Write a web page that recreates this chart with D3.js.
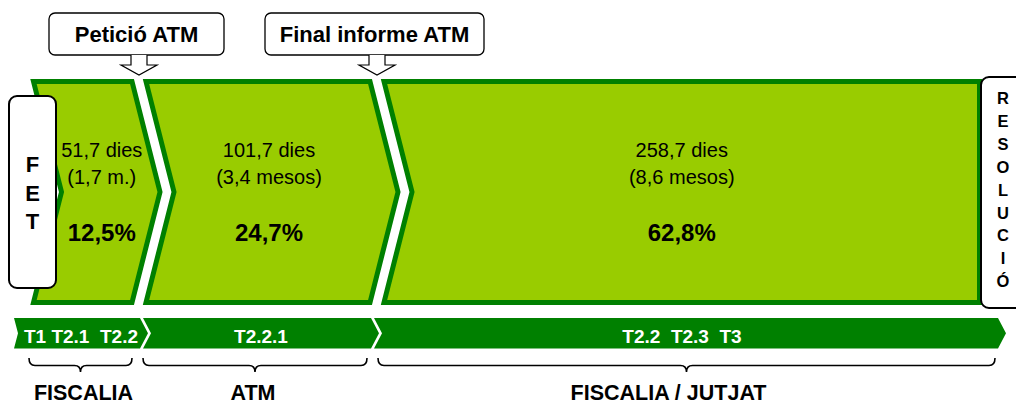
<!DOCTYPE html>
<html>
<head>
<meta charset="utf-8">
<script src="https://cdn.jsdelivr.net/npm/d3@7"></script>
<style>
  html, body { margin: 0; padding: 0; background: #fff; }
  svg { display: block; font-family: "Liberation Sans", Arial, sans-serif; }
</style>
</head>
<body>
<svg id="chart" width="1016" height="405"></svg>
<script>
// ---------- DATA ----------
const stages = ["FISCALIA", "ATM", "FISCALIA / JUTJAT"];
const stageDays = [51.7, 101.7, 258.7];
const stageMonths = ["(1,7 m.)", "(3,4 mesos)", "(8,6 mesos)"];
const stagePct = [12.5, 24.7, 62.8];
const stageTramits = ["T1 T2.1  T2.2", "T2.2.1", "T2.2  T2.3  T3"];
const milestones = ["Petició ATM", "Final informe ATM"];
const startLabel = "FET";
const endLabel = "RESOLUCIÓ";

// ---------- LAYOUT ----------
const DARK = "#008000", LIGHT = "#99CC00";
const FONT = "'Liberation Sans', Arial, sans-serif";

const loc = d3.formatLocale({decimal: ",", thousands: ".", grouping: [3], currency: ["", "€"]});
const f1 = loc.format(".1f");

const cum = [0];
stageDays.forEach(d => cum.push(cum[cum.length - 1] + d));

// piecewise scales mapping cumulative days to x positions
const stageX = d3.scaleLinear().domain(cum).range([31, 139, 377, 982]);
const barX = d3.scaleLinear().domain(cum).range([14, 141.5, 372.5, 998]);
const braceX = d3.scaleLinear().domain(cum).range([29, 138, 373, 995]);

const svg = d3.select("#chart");

// ---------- CHEVRONS ----------
const bandTop = 79, bandBot = 305, bandMid = 192, depth = 28, halfGap = 4.5, sw = 5;
const labelDx = [19, 11, 0];
const last = stages.length - 1;

const chev = stages.map((s, i) => {
  const L = stageX(cum[i]) + (i > 0 ? halfGap : 0);
  const R = stageX(cum[i + 1]) - (i < last ? halfGap : 0);
  return {i, L, R};
});

const g = svg.append("g");
g.selectAll("path.chev").data(chev).enter().append("path")
  .attr("class", "chev")
  .attr("d", d => {
    const h = sw / 2;
    const t = bandTop + h, b = bandBot - h;
    const L = d.L + h, R = d.R - h;
    const pts = [[L, t], [R, t]];
    if (d.i < last) pts.push([R + depth, bandMid]);
    pts.push([R, b], [L, b], [L + depth, bandMid]);
    return "M" + pts.map(p => p.join(",")).join("L") + "Z";
  })
  .attr("fill", LIGHT)
  .attr("stroke", DARK)
  .attr("stroke-width", sw)
  .attr("stroke-linejoin", "miter");

const lab = g.selectAll("g.lab").data(chev).enter().append("g")
  .attr("transform", d => `translate(${(d.L + d.R) / 2 + labelDx[d.i]},0)`)
  .attr("text-anchor", "middle")
  .attr("font-family", FONT)
  .attr("fill", "#000");
lab.append("text").attr("y", 157).attr("font-size", 20)
  .text(d => f1(stageDays[d.i]) + " dies");
lab.append("text").attr("y", 184).attr("font-size", 20)
  .text(d => stageMonths[d.i]);
lab.append("text").attr("y", 241).attr("font-size", 24).attr("font-weight", "bold")
  .text(d => f1(stagePct[d.i]) + "%");

// ---------- BOTTOM TRAMIT BAR ----------
const barTop = 318, barBot = 348.5, barMid = (barTop + barBot) / 2, tip = 8, gap = 1.5;
const segs = stages.map((s, i) => {
  const L = barX(cum[i]) + (i > 0 ? gap : 0);
  const R = barX(cum[i + 1]) - (i < last ? gap : 0);
  return {i, L, R, notch: i === 0 ? 4 : tip};
});
svg.selectAll("path.seg").data(segs).enter().append("path")
  .attr("d", d => {
    const pts = [[d.L, barTop], [d.R, barTop], [d.R + tip, barMid], [d.R, barBot], [d.L, barBot], [d.L + d.notch, barMid]];
    return "M" + pts.map(p => p.join(",")).join("L") + "Z";
  })
  .attr("fill", DARK);

svg.selectAll("text.tram").data(segs).enter().append("text")
  .attr("x", d => (d.L + d.R) / 2 + (d.i < last ? tip / 2 : -4))
  .attr("y", 343)
  .attr("text-anchor", "middle")
  .attr("font-family", FONT)
  .attr("font-size", 19)
  .attr("font-weight", "bold")
  .attr("fill", "#fff")
  .style("white-space", "pre")
  .text(d => stageTramits[d.i]);

// ---------- BRACES ----------
const bY0 = 358, bY1 = 365.5, bY2 = 372;
const braces = stages.map((s, i) => {
  const x0 = braceX(cum[i]) + (i > 0 ? 5 : 0);
  const x1 = braceX(cum[i + 1]) - (i < last ? 6 : 0);
  return {i, x0, x1, cx: (x0 + x1) / 2};
});
svg.selectAll("path.brace").data(braces).enter().append("path")
  .attr("d", d => {
    const r = 6;
    return `M${d.x0},${bY0} Q${d.x0},${bY1} ${d.x0 + r},${bY1} L${d.cx - r},${bY1} Q${d.cx},${bY1} ${d.cx},${bY2} ` +
           `Q${d.cx},${bY1} ${d.cx + r},${bY1} L${d.x1 - r},${bY1} Q${d.x1},${bY1} ${d.x1},${bY0}`;
  })
  .attr("fill", "none")
  .attr("stroke", "#000")
  .attr("stroke-width", 1.6);

const stageLabelDx = [3, -2, -18];
svg.selectAll("text.stage").data(braces).enter().append("text")
  .attr("x", d => d.cx + stageLabelDx[d.i])
  .attr("y", 400)
  .attr("text-anchor", "middle")
  .attr("font-family", FONT)
  .attr("font-size", 21.5)
  .attr("font-weight", "bold")
  .attr("fill", "#000")
  .text(d => stages[d.i]);

// ---------- MILESTONE CALLOUTS ----------
const boxW = [175, 219];
const ms = milestones.map((m, i) => ({i, m, ax: stageX(cum[i + 1])}));
const mg = svg.selectAll("g.ms").data(ms).enter().append("g");
mg.append("rect")
  .attr("x", d => d.ax - 2.5 - boxW[d.i] / 2)
  .attr("y", 13).attr("width", d => boxW[d.i]).attr("height", 42)
  .attr("rx", 6)
  .attr("fill", "#fff").attr("stroke", "#000").attr("stroke-width", 1.3);
mg.append("text")
  .attr("x", d => d.ax - 2.5)
  .attr("y", 42)
  .attr("text-anchor", "middle")
  .attr("font-family", FONT)
  .attr("font-size", 22)
  .attr("font-weight", "bold")
  .attr("fill", "#000")
  .text(d => d.m);
mg.append("path")
  .attr("d", d => {
    const x = d.ax, sh = 8, hh = 18;
    return `M${x - sh},55 L${x - sh},65 L${x - hh},65 L${x},75 L${x + hh},65 L${x + sh},65 L${x + sh},55`;
  })
  .attr("fill", "#fff").attr("stroke", "#000").attr("stroke-width", 1.2)
  .attr("stroke-linejoin", "miter");

// ---------- START / END BOXES ----------
svg.append("rect").attr("x", 9).attr("y", 96).attr("width", 47).attr("height", 192)
  .attr("rx", 8).attr("fill", "#fff").attr("stroke", "#000").attr("stroke-width", 2);
svg.selectAll("text.start").data(startLabel.split("")).enter().append("text")
  .attr("x", 32.5).attr("y", (d, i) => 172 + i * 28.5)
  .attr("text-anchor", "middle").attr("font-family", FONT)
  .attr("font-size", 22).attr("font-weight", "bold").attr("fill", "#000")
  .text(d => d);

svg.append("rect").attr("x", 981).attr("y", 77).attr("width", 60).attr("height", 231)
  .attr("rx", 8).attr("fill", "#fff").attr("stroke", "#000").attr("stroke-width", 2);
svg.selectAll("text.end").data(endLabel.split("")).enter().append("text")
  .attr("x", 1003).attr("y", (d, i) => 104 + i * 22.9)
  .attr("text-anchor", "middle").attr("font-family", FONT)
  .attr("font-size", 16.5).attr("font-weight", "bold").attr("fill", "#000")
  .text(d => d);
</script>
</body>
</html>
